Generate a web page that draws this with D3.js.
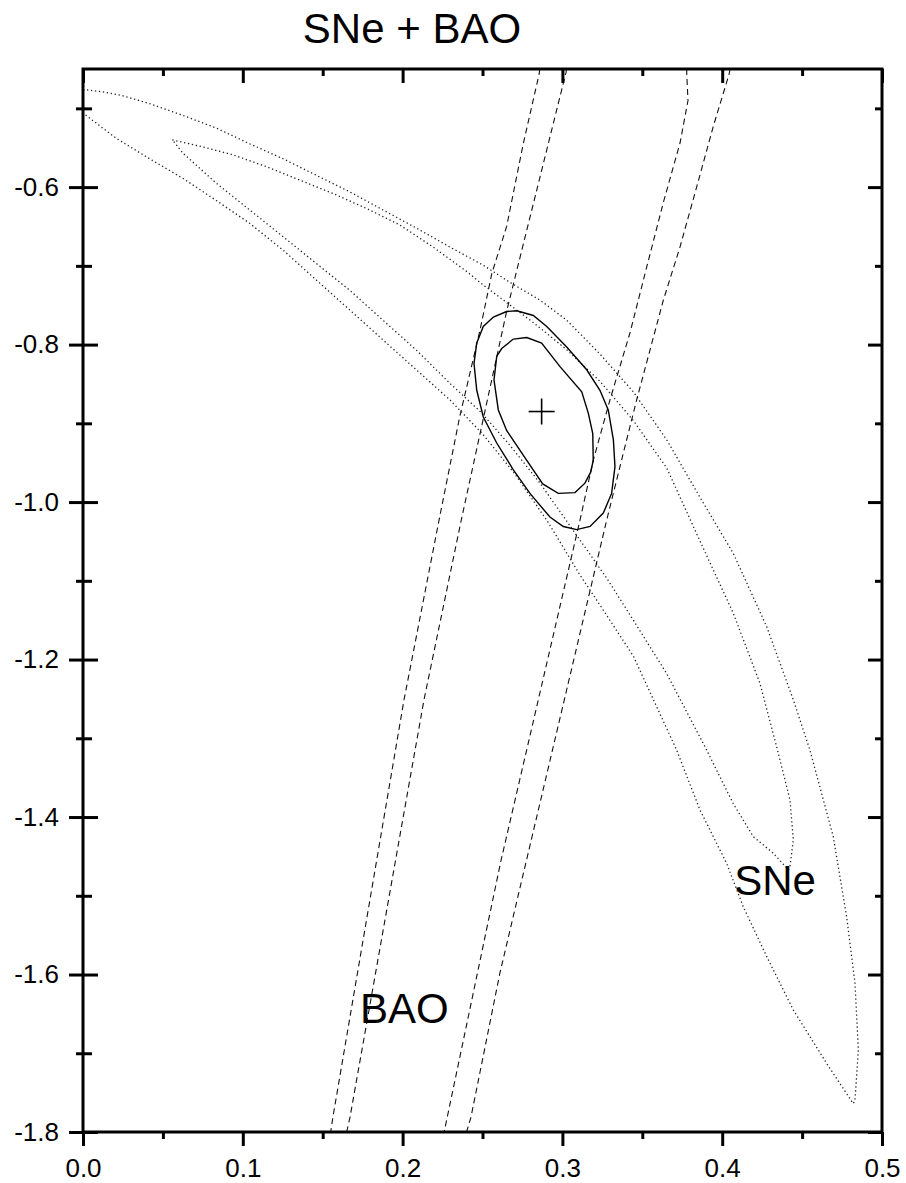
<!DOCTYPE html>
<html>
<head>
<meta charset="UTF-8">
<title>SNe + BAO</title>
<script src="https://cdn.jsdelivr.net/npm/d3@7"></script>
<style>
  body { margin: 0; background: #fff; }
  svg { display: block; font-family: "Liberation Sans", Arial, sans-serif; }
  .frame { fill: none; stroke: #000; stroke-width: 3; }
  .axis path { display: none; }
  .axis line { stroke: #000; stroke-width: 3; }
  .axis text { font-size: 26px; fill: #000; font-family: "Liberation Sans", Arial, sans-serif; }
  .sne { fill: none; stroke: #222; stroke-width: 1.3; stroke-dasharray: 1.3 2.7; }
  .bao { fill: none; stroke: #111; stroke-width: 1.1; stroke-dasharray: 6 4; }
  .fit { fill: none; stroke: #000; stroke-width: 1.4; }
  .cross { stroke: #000; stroke-width: 1.6; }
  .label { font-size: 42px; fill: #000; }
</style>
</head>
<body>
<svg id="chart" width="906" height="1183"></svg>
<script>
// axis ticks
const xMajor = [0, 0.1, 0.2, 0.3, 0.4, 0.5];
const xMinor = [0.05, 0.15, 0.25, 0.35, 0.45];
const yMajor = [-1.8, -1.6, -1.4, -1.2, -1.0, -0.8, -0.6];
const yMinor = [-1.7, -1.5, -1.3, -1.1, -0.9, -0.7, -0.5];

// SNe contours (dotted), [Omega_m, w]
const sneOuter = [
  [0, -0.476], [0.0125, -0.479], [0.025, -0.484], [0.0417, -0.494], [0.0626, -0.509],
  [0.0834, -0.525], [0.1043, -0.545], [0.1252, -0.564], [0.146, -0.585], [0.1669, -0.606],
  [0.1877, -0.629], [0.2086, -0.652], [0.2295, -0.676], [0.2503, -0.699], [0.2672, -0.721],
  [0.286, -0.7435], [0.3027, -0.769], [0.3235, -0.812], [0.3444, -0.860], [0.3653, -0.921],
  [0.3861, -0.994], [0.4069, -1.065], [0.4278, -1.158], [0.4445, -1.251], [0.4549, -1.315],
  [0.4695, -1.425], [0.4779, -1.527], [0.4831, -1.611], [0.4852, -1.696], [0.4831, -1.759],
  [0.482, -1.764],
  [0.4654, -1.713], [0.4445, -1.645], [0.4278, -1.577], [0.4132, -1.514], [0.4028, -1.459],
  [0.3861, -1.391], [0.3715, -1.315], [0.3444, -1.1956], [0.3235, -1.1308], [0.311, -1.0927],
  [0.291, -1.0254], [0.2703, -0.9644], [0.2503, -0.914], [0.2295, -0.870], [0.2086, -0.832],
  [0.1877, -0.794], [0.1669, -0.756], [0.146, -0.718], [0.1252, -0.680], [0.1043, -0.646],
  [0.0834, -0.617], [0.0626, -0.589], [0.0417, -0.564], [0.0208, -0.538], [0, -0.506]
];
const sneInner = [
  [0.0559, -0.540], [0.073, -0.548], [0.0939, -0.559], [0.1147, -0.574], [0.1356, -0.591],
  [0.1564, -0.608], [0.1773, -0.627], [0.1982, -0.648], [0.219, -0.676], [0.240, -0.707],
  [0.2503, -0.724], [0.2818, -0.772], [0.3027, -0.8065], [0.3235, -0.8466], [0.3442, -0.8959],
  [0.3653, -0.9568], [0.3861, -1.0495], [0.4069, -1.141], [0.4236, -1.230], [0.4341, -1.311],
  [0.4424, -1.378], [0.4445, -1.429], [0.4424, -1.463], [0.4414, -1.467],
  [0.432, -1.446], [0.4195, -1.425], [0.4069, -1.383], [0.3903, -1.315], [0.3653, -1.218],
  [0.3444, -1.150], [0.3277, -1.0965], [0.3066, -1.0356], [0.286, -0.976], [0.2672, -0.928],
  [0.2491, -0.886], [0.2295, -0.849], [0.2086, -0.807], [0.1877, -0.769], [0.1669, -0.731],
  [0.146, -0.697], [0.1252, -0.663], [0.1043, -0.629], [0.0834, -0.595], [0.0626, -0.557],
  [0.0559, -0.540]
];

// BAO band edges (dashed)
const baoLine1 = [[0.2858, -0.45], [0.2855, -0.456], [0.2755, -0.545], [0.2651, -0.650], [0.2558, -0.710],
  [0.2484, -0.782], [0.2357, -0.892], [0.2228, -1.023], [0.2009, -1.251], [0.1564, -1.781], [0.155, -1.800]];
const baoLine2 = [[0.3026, -0.45], [0.3023, -0.454], [0.2653, -0.756], [0.2367, -1.023], [0.2134, -1.251],
  [0.1671, -1.781], [0.165, -1.800]];
const baoLine3 = [[0.3778, -0.45], [0.3778, -0.456], [0.3786, -0.490], [0.3736, -0.544], [0.3631, -0.620],
  [0.3527, -0.702], [0.3423, -0.785], [0.3298, -0.870], [0.3193, -0.947], [0.311, -1.023],
  [0.2616, -1.455], [0.226, -1.800]];
const baoLine4 = [[0.4049, -0.45], [0.4044, -0.456], [0.3944, -0.523], [0.384, -0.600], [0.3736, -0.676],
  [0.3631, -0.744], [0.3465, -0.870], [0.3381, -0.938], [0.3277, -1.023], [0.2609, -1.598],
  [0.2428, -1.781], [0.240, -1.800]];

// combined SNe + BAO contours (solid)
const fitOuter = [
  [0.2714, -0.757], [0.2818, -0.763], [0.2902, -0.777], [0.3027, -0.803], [0.3152, -0.832],
  [0.3235, -0.858], [0.3287, -0.883], [0.3319, -0.921], [0.3329, -0.955], [0.3308, -0.989],
  [0.3256, -1.014], [0.3173, -1.031], [0.3089, -1.035], [0.3006, -1.031], [0.2922, -1.019],
  [0.2797, -0.989], [0.2693, -0.959], [0.2589, -0.925], [0.2505, -0.892], [0.2464, -0.858],
  [0.2447, -0.824], [0.2464, -0.798], [0.2505, -0.777], [0.2568, -0.765], [0.2651, -0.758],
  [0.2714, -0.757]
];
const fitInner = [
  [0.2693, -0.793], [0.2777, -0.791], [0.287, -0.798], [0.2985, -0.828], [0.3121, -0.860],
  [0.3162, -0.887], [0.319, -0.913], [0.3193, -0.947], [0.3177, -0.962], [0.3141, -0.976],
  [0.3079, -0.988], [0.2974, -0.989], [0.2877, -0.977], [0.2777, -0.947], [0.2651, -0.909],
  [0.2599, -0.883], [0.2572, -0.845], [0.2589, -0.815], [0.262, -0.805], [0.2693, -0.793]
];
const bestFit = [0.287, -0.885];

const titleText = "SNe + BAO";
const labels = [
  { text: "SNe", x: 0.4075, y: -1.499 },
  { text: "BAO", x: 0.1734, y: -1.661 }
];

const svg = d3.select("#chart");
const m = { left: 83, right: 882, top: 69, bottom: 1132 };

const x = d3.scaleLinear().domain([0, 0.5]).range([m.left, m.right]);
const y = d3.scaleLinear().domain([-1.8, -0.45]).range([m.bottom, m.top]);
const fmt = d => d.toFixed(1);

svg.append("defs").append("clipPath").attr("id", "plot-clip")
  .append("rect").attr("x", m.left).attr("y", m.top)
  .attr("width", m.right - m.left).attr("height", m.bottom - m.top);

const line = d3.line().x(d => x(d[0])).y(d => y(d[1]));
const plot = svg.append("g").attr("clip-path", "url(#plot-clip)");

plot.selectAll(".sne").data([sneOuter, sneInner]).enter()
  .append("path").attr("class", "sne").attr("d", line);
plot.selectAll(".bao").data([baoLine1, baoLine2, baoLine3, baoLine4]).enter()
  .append("path").attr("class", "bao").attr("d", line);
plot.selectAll(".fit").data([fitOuter, fitInner]).enter()
  .append("path").attr("class", "fit").attr("d", line);

const cx = x(bestFit[0]), cy = y(bestFit[1]);
plot.append("line").attr("class", "cross").attr("x1", cx - 13).attr("x2", cx + 13).attr("y1", cy).attr("y2", cy);
plot.append("line").attr("class", "cross").attr("x1", cx).attr("x2", cx).attr("y1", cy - 13).attr("y2", cy + 13);

// axes
function addAxis(axis, tx, ty) {
  svg.append("g").attr("class", "axis").attr("transform", `translate(${tx},${ty})`).call(axis);
}
addAxis(d3.axisBottom(x).tickValues(xMajor).tickSize(14).tickPadding(13).tickFormat(fmt), 0, m.bottom);
addAxis(d3.axisBottom(x).tickValues(xMinor).tickSize(7).tickFormat(""), 0, m.bottom);
addAxis(d3.axisTop(x).tickValues(xMajor).tickSize(-14).tickFormat(""), 0, m.top);
addAxis(d3.axisTop(x).tickValues(xMinor).tickSize(-7).tickFormat(""), 0, m.top);

addAxis(d3.axisLeft(y).tickValues(yMajor).tickSize(14).tickPadding(10).tickFormat(fmt), m.left, 0);
addAxis(d3.axisRight(y).tickValues(yMajor).tickSize(15).tickFormat(""), m.left, 0);
addAxis(d3.axisLeft(y).tickValues(yMinor).tickSize(7).tickFormat(""), m.left, 0);
addAxis(d3.axisRight(y).tickValues(yMinor).tickSize(9).tickFormat(""), m.left, 0);
addAxis(d3.axisLeft(y).tickValues(yMajor).tickSize(14).tickFormat(""), m.right, 0);
addAxis(d3.axisLeft(y).tickValues(yMinor).tickSize(7).tickFormat(""), m.right, 0);

svg.append("rect").attr("class", "frame")
  .attr("x", m.left).attr("y", m.top).attr("width", m.right - m.left).attr("height", m.bottom - m.top);

svg.append("text").attr("class", "label")
  .attr("x", 412).attr("y", 43).attr("text-anchor", "middle")
  .text(titleText);

svg.selectAll(".plabel").data(labels).enter()
  .append("text").attr("class", "label plabel")
  .attr("x", d => x(d.x)).attr("y", d => y(d.y))
  .text(d => d.text);
</script>
</body>
</html>
